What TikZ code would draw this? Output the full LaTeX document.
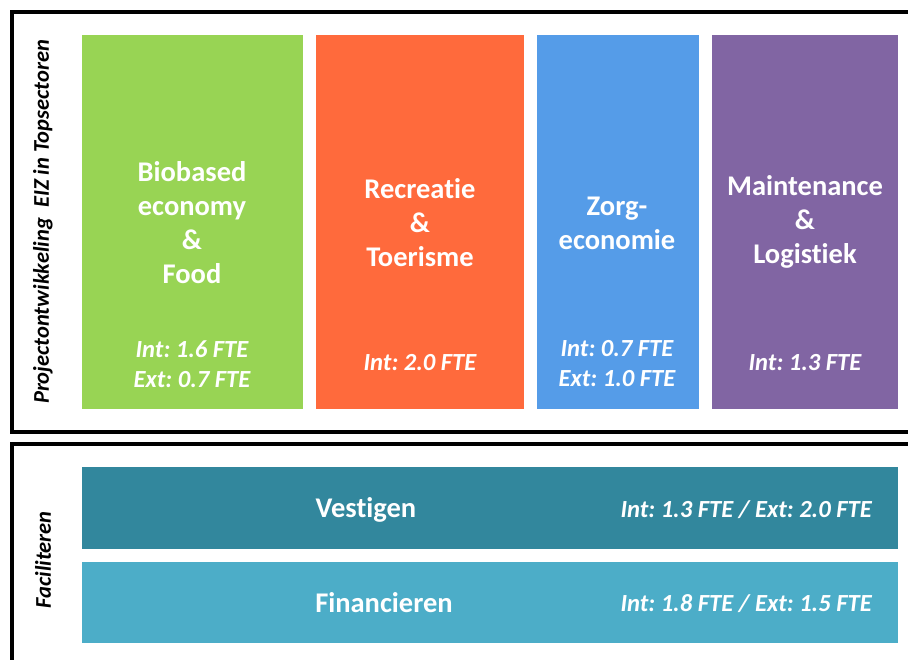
\documentclass[tikz,border=0pt]{standalone}
\usepackage{fontspec}
\setmainfont{Carlito}[Ligatures={NoCommon}]
\frenchspacing
\definecolor{cgreen}{HTML}{98D454}
\definecolor{corange}{HTML}{FF6A3C}
\definecolor{cblue}{HTML}{559CE8}
\definecolor{cpurple}{HTML}{8165A3}
\definecolor{cteal}{HTML}{32879D}
\definecolor{caqua}{HTML}{4CADC8}
\tikzset{
  box/.style={draw=none, inner sep=0, anchor=north west},
  title/.style={text=white, font=\bfseries\fontsize{28.5}{34}\selectfont, align=center, inner sep=0},
  fte/.style={text=white, font=\bfseries\itshape\fontsize{24.6}{30}\selectfont, align=center, inner sep=0},
  side/.style={font=\bfseries\itshape\fontsize{22.5}{24}\selectfont, rotate=90, inner sep=0},
  frame/.style={line width=4pt, draw=black}
}
\begin{document}
\begin{tikzpicture}[x=1pt,y=-1pt]
\useasboundingbox (0,0) rectangle (908,660);
\clip (0,0) rectangle (908,660);
\fill[white] (0,0) rectangle (908,660);
\draw[frame] (12,12) rectangle (930,432);
\draw[frame] (12,444) rectangle (930,690);
% sector boxes
\node[box, fill=cgreen, minimum width=221pt, minimum height=374pt] (green) at (82,35) {};
\node[box, fill=corange, minimum width=208pt, minimum height=374pt] (orange) at (316,35) {};
\node[box, fill=cblue, minimum width=162pt, minimum height=374pt] (blue) at (537,35) {};
\node[box, fill=cpurple, minimum width=186pt, minimum height=374pt] (purple) at (712,35) {};
% facilitating bars
\node[box, fill=cteal, minimum width=816pt, minimum height=82pt] (vest) at (82,467) {};
\node[box, fill=caqua, minimum width=816pt, minimum height=81pt] (fin) at (82,562) {};
% titles
\node[title] (tgreen) at (192,223) {Biobased\\economy\\\&\\Food};
\node[title] (torange) at (420,223) {Recreatie\\\&\\Toerisme};
\node[title] (tblue) at (617,223) {Zorg-\\economie};
\node[title] (tpurple) at (805,222) {Maintenance\\\&\\Logistiek};
% fte
\node[fte] (fgreen) at (192,364) {Int: 1.6 FTE\\Ext: 0.7 FTE};
\node[fte] (forange) at (420,363) {Int: 2.0 FTE};
\node[fte] (fblue) at (617,364) {Int: 0.7 FTE\\Ext: 1.0 FTE};
\node[fte] (fpurple) at (805,363) {Int: 1.3 FTE};
% bars text
\node[title] (tvest) at (366,510) {Vestigen};
\node[fte, anchor=east] (fvest) at (872,510) {Int: 1.3 FTE / Ext: 2.0 FTE};
\node[title] (tfin) at (384,603) {Financieren};
\node[fte, anchor=east] (ffin) at (872,604) {Int: 1.8 FTE / Ext: 1.5 FTE};
% side labels
\node[side] (s1) at (43,222) {Projectontwikkeling\ \ EIZ in Topsectoren};
\node[side] (s2) at (43,560) {Faciliteren};
\end{tikzpicture}
\end{document}
